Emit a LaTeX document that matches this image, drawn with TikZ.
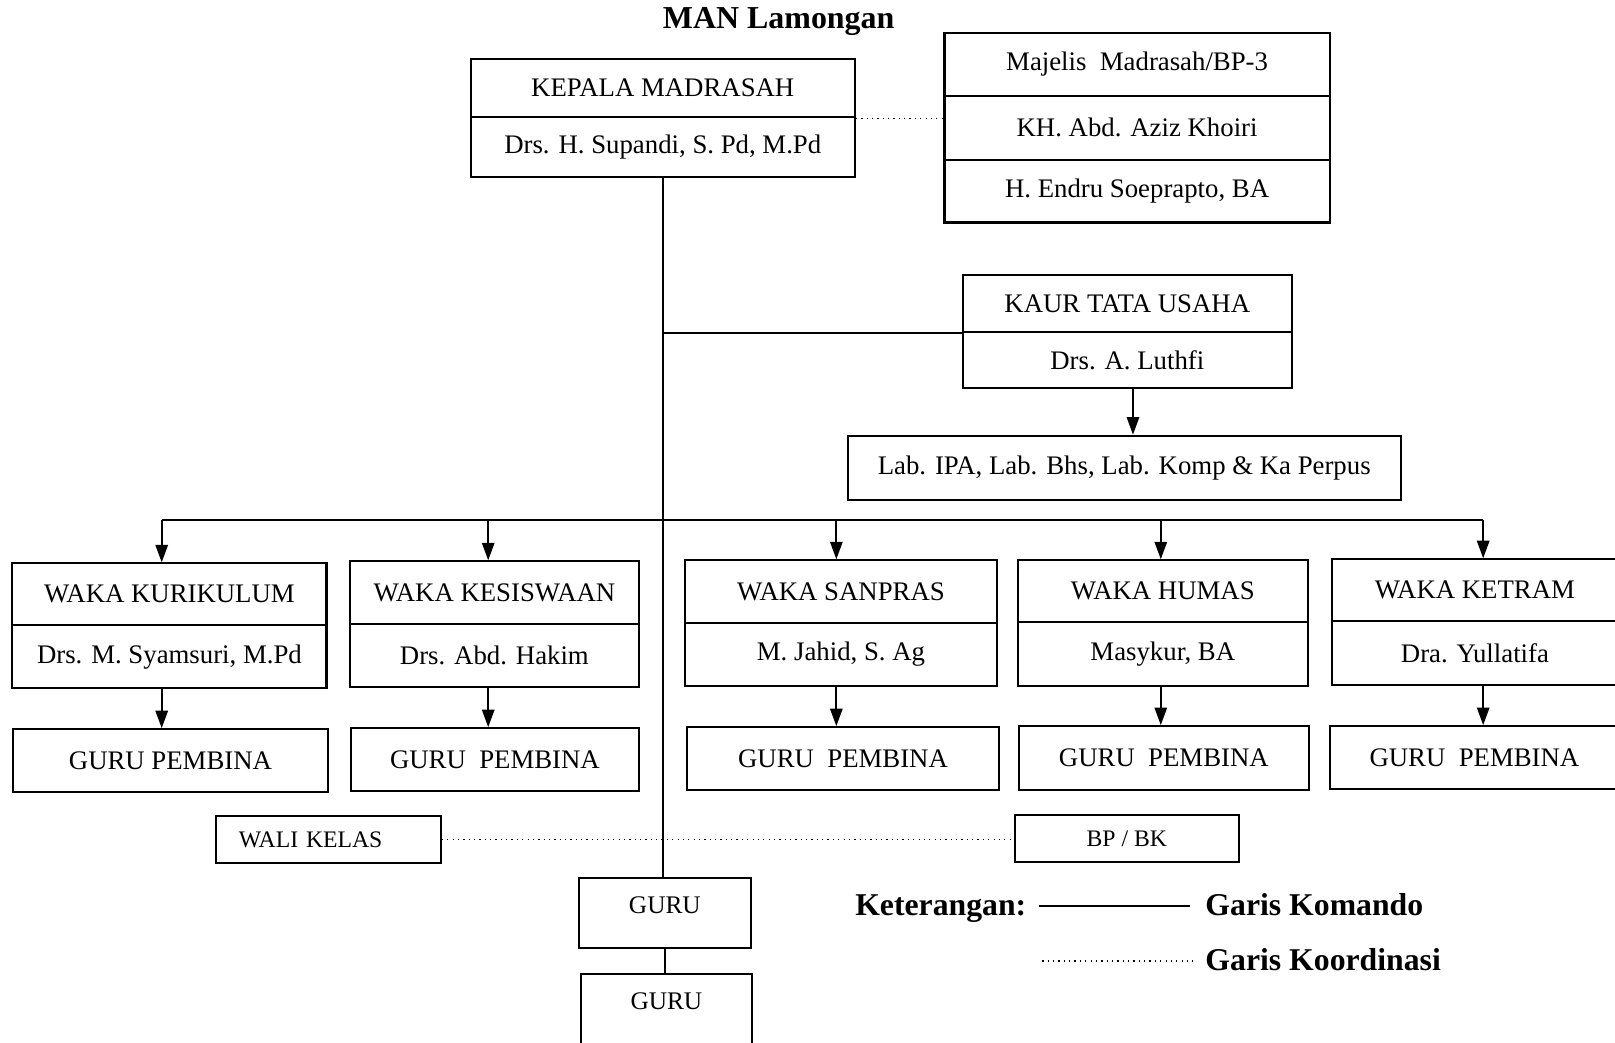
\documentclass[tikz,border=0pt]{standalone}
\usepackage{fontspec}
\setmainfont{Liberation Serif}
\usetikzlibrary{arrows.meta}
\begin{document}
\begin{tikzpicture}[x=0.5pt,y=-0.5pt,
  cell/.style={draw, line width=1pt, inner sep=0pt, font=\fontsize{13}{15}\selectfont, align=center},
  small/.style={cell, font=\fontsize{11.5}{14}\selectfont},
  arr/.style={-{Triangle[length=8.5pt,width=6pt]}, line width=0.9pt},
  cmd/.style={line width=0.9pt},
  coordline/.style={dotted, line width=0.6pt},
  legend/.style={font=\fontsize{15.4}{18}\bfseries\selectfont, anchor=base west, inner sep=0pt}]
\useasboundingbox (0,0) rectangle (1568,1012);

% title
\node[font=\fontsize{15.5}{18}\bfseries\selectfont, anchor=base] (title) at (756,28) {MAN Lamongan};

% Kepala Madrasah
\node[cell, minimum width=186.5pt, minimum height=28.5pt] (ka) at (643.5,85.5) {KEPALA MADRASAH};
\node[cell, minimum width=186.5pt, minimum height=29pt] (kb) at (643.5,143) {Drs. H. Supandi, S. Pd, M.Pd};

% Majelis
\node[cell, minimum width=187pt, minimum height=30.5pt] (m1) at (1104,62.5) {Majelis\ \ Madrasah/BP-3};
\node[cell, minimum width=187pt, minimum height=31pt] (m2) at (1104,124) {KH. Abd. Aziz Khoiri};
\node[cell, minimum width=187pt, minimum height=30.5pt] (m3) at (1104,185.5) {H. Endru Soeprapto, BA};

% Kaur Tata Usaha
\node[cell, minimum width=159.5pt, minimum height=27.5pt] (k1) at (1094.5,294.5) {KAUR TATA USAHA};
\node[cell, minimum width=159.5pt, minimum height=27.5pt] (k2) at (1094.5,349.5) {Drs. A. Luthfi};

% Lab
\node[cell, minimum width=268.5pt, minimum height=31pt] (lab) at (1091.5,454) {Lab. IPA, Lab. Bhs, Lab. Komp \& Ka Perpus};

% WAKA boxes
\node[cell, minimum width=152.5pt, minimum height=30pt] (w1a) at (164.5,577) {WAKA KURIKULUM};
\node[cell, minimum width=152.5pt, minimum height=30.5pt] (w1b) at (164.5,637.5) {Drs. M. Syamsuri, M.Pd};
\node[cell, minimum width=140pt, minimum height=30.5pt] (w2a) at (480,575.5) {WAKA KESISWAAN};
\node[cell, minimum width=140pt, minimum height=30.5pt] (w2b) at (480,636.5) {Drs. Abd. Hakim};
\node[cell, minimum width=151.5pt, minimum height=30.5pt] (w3a) at (816.5,574.5) {WAKA SANPRAS};
\node[cell, minimum width=151.5pt, minimum height=30.5pt] (w3b) at (816.5,635.5) {M. Jahid, S. Ag};
\node[cell, minimum width=141pt, minimum height=30pt] (w4a) at (1129,574) {WAKA HUMAS};
\node[cell, minimum width=141pt, minimum height=31pt] (w4b) at (1129,635) {Masykur, BA};
\node[cell, minimum width=139pt, minimum height=30pt] (w5a) at (1432,573) {WAKA KETRAM};
\node[cell, minimum width=139pt, minimum height=31pt] (w5b) at (1432,634) {Dra. Yullatifa};

% GURU PEMBINA
\node[cell, minimum width=152.5pt, minimum height=30.5pt] (g1) at (165.5,738.5) {GURU PEMBINA};
\node[cell, minimum width=139.5pt, minimum height=30.5pt] (g2) at (480.5,737.5) {GURU\ \ PEMBINA};
\node[cell, minimum width=151.5pt, minimum height=30.5pt] (g3) at (818.5,736.5) {GURU\ \ PEMBINA};
\node[cell, minimum width=141pt, minimum height=31pt] (g4) at (1130,736) {GURU\ \ PEMBINA};
\node[cell, minimum width=140.5pt, minimum height=30.5pt] (g5) at (1431.5,735.5) {GURU\ \ PEMBINA};

% Wali kelas, BP/BK
\node[small, minimum height=23pt, text width=87pt, inner xsep=11pt, align=left] (wali) at (319,815) {WALI KELAS};
\node[small, minimum width=109pt, minimum height=23pt] (bp) at (1094,814) {BP / BK};

% Guru boxes
\node[cell, minimum width=83.5pt, minimum height=34pt] (gu1) at (645.5,886) {};
\node[font=\fontsize{12.3}{14}\selectfont, inner sep=0pt] (gu1t) at (645.5,879) {GURU};
\node[cell, minimum width=83pt, minimum height=35pt] (gu2) at (647,981) {};
\node[font=\fontsize{12.3}{14}\selectfont, inner sep=0pt] (gu2t) at (647,972) {GURU};

% command lines
\draw[cmd] (kb.south) -- (kb.south |- gu1.north);
\draw[cmd] (kb.south |- k1.south) -- (k1.south west);
\draw[arr] ([xshift=2.75pt]k2.south) -- ([xshift=2.75pt]k2.south |- lab.north);
\draw[cmd] (gu1.south -| gu1t) -- (gu1t |- gu2.north);

\coordinate (b1) at (157,505);
\coordinate (b2) at (474,505);
\coordinate (b3) at (812,505);
\coordinate (b4) at (1127,505);
\coordinate (b5) at (1440,505);
\draw[cmd] (b1) -- (b5);
\draw[arr] (b1) -- (b1 |- w1a.north);
\draw[arr] (b2) -- (b2 |- w2a.north);
\draw[arr] (b3) -- (b3 |- w3a.north);
\draw[arr] (b4) -- (b4 |- w4a.north);
\draw[arr] (b5) -- (b5 |- w5a.north);
\draw[arr] (b1 |- w1b.south) -- (b1 |- g1.north);
\draw[arr] (b2 |- w2b.south) -- (b2 |- g2.north);
\draw[arr] (b3 |- w3b.south) -- (b3 |- g3.north);
\draw[arr] (b4 |- w4b.south) -- (b4 |- g4.north);
\draw[arr] (b5 |- w5b.south) -- (b5 |- g5.north);

% coordination lines
\draw[coordline] (ka.south east) -- (ka.south east -| m2.west);
\draw[coordline] (wali.east) -- (wali.east -| bp.west);

% legend
\node[legend] (ket) at (830,889) {Keterangan:};
\coordinate (lk1) at (1009,880);
\coordinate (lk2) at (1155,880);
\draw[cmd] (lk1) -- (lk2);
\node[legend] (gk) at (1170,889) {Garis Komando};
\coordinate (ld1) at (1012,933);
\coordinate (ld2) at (1158,933);
\draw[coordline] (ld1) -- (ld2);
\node[legend] (gko) at (1170,942) {Garis Koordinasi};
\end{tikzpicture}
\end{document}
